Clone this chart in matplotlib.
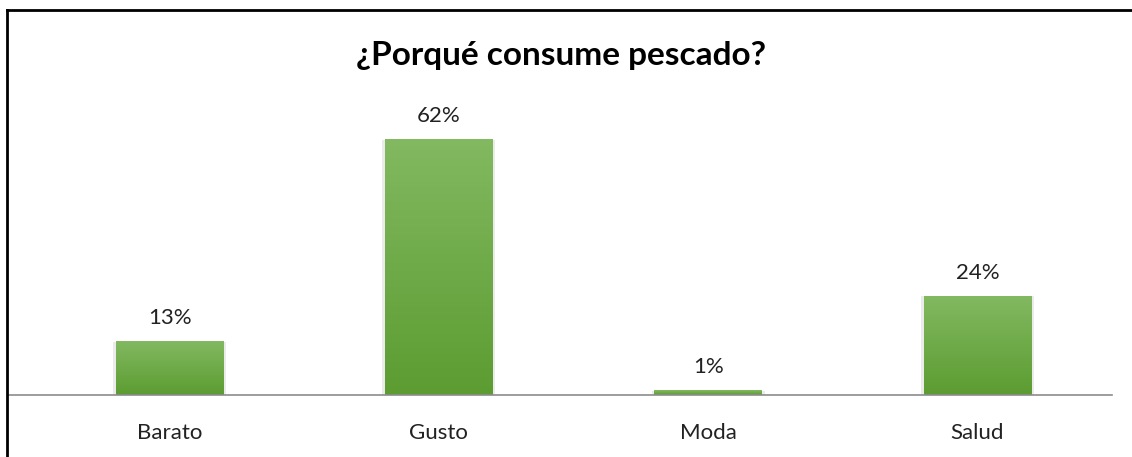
import matplotlib.pyplot as plt
import matplotlib.colors as mcolors
import numpy as np

categorias = ['Barato', 'Gusto', 'Moda', 'Salud']
porcentajes = [13, 62, 1, 24]
etiquetas = ['13%', '62%', '1%', '24%']

plt.rcParams['font.family'] = ['Lato', 'DejaVu Sans']

W, H = 1132, 457
fig = plt.figure(figsize=(W / 100, H / 100), dpi=100)

# area del grafico (en pixeles de la imagen)
x0, x1 = 35, 1112
y_base, y_top = 395, 107
ax = fig.add_axes([x0 / W, 1 - y_base / H, (x1 - x0) / W, (y_base - y_top) / H])

x = np.arange(len(categorias))
ancho = 0.4

# degradado verde de las barras
cmap = mcolors.LinearSegmentedColormap.from_list('verde', ['#5c9c31', '#82b961'])
grad = np.linspace(0, 1, 256).reshape(-1, 1)

for xi, v, lab in zip(x, porcentajes, etiquetas):
    # sombra suave
    ax.bar(xi, v, width=ancho + 0.02, color='#000000', alpha=0.08, zorder=1)
    ax.imshow(grad, cmap=cmap, origin='lower', aspect='auto',
              extent=(xi - ancho / 2, xi + ancho / 2, 0, v), zorder=2)
    ax.text(xi, v + 3.3, lab, ha='center', va='bottom', fontsize=16, color='#222222')

ax.set_xlim(-0.5, len(categorias) - 0.5)
ax.set_ylim(0, 70)

ax.axhline(0, xmin=-27 / (x1 - x0), xmax=1, color='#8c8c8c', lw=1.2, clip_on=False, zorder=3)
for s in ax.spines.values():
    s.set_visible(False)
ax.set_yticks([])
ax.set_xticks(x)
ax.set_xticklabels(categorias, fontsize=16, color='#222222')
ax.tick_params(axis='x', length=0, pad=20)

fig.text(561 / W, 1 - 55 / H, '¿Porqué consume pescado?', ha='center', va='center',
         fontsize=24, fontweight='bold', color='#000000')

# borde superior e izquierdo
fig.add_artist(plt.Line2D([7 / W, 1], [1 - 10 / H, 1 - 10 / H], color='black', lw=2))
fig.add_artist(plt.Line2D([7 / W, 7 / W], [0, 1 - 10 / H], color='black', lw=2))

fig.savefig('out.png', dpi=100)
